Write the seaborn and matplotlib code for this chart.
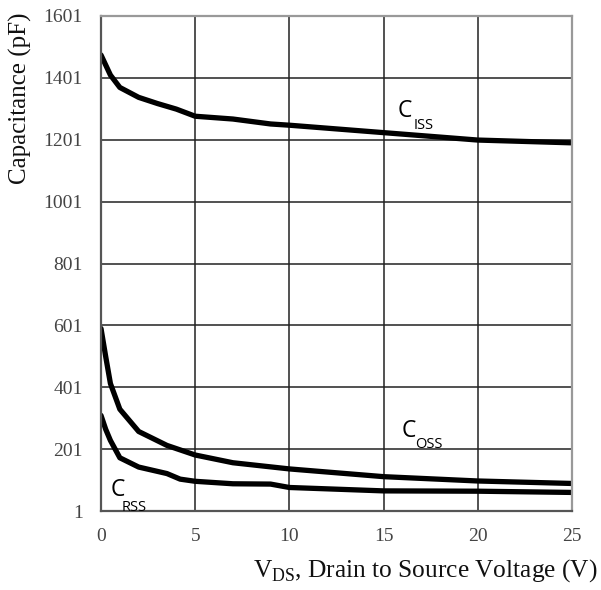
import matplotlib
matplotlib.use("Agg")
import matplotlib.pyplot as plt
import seaborn as sns
import pandas as pd

# Data
vds_ciss = [0, 0.5, 1, 2, 3, 4, 5, 7, 9, 10, 15, 20, 25]
ciss = [1475, 1410, 1370, 1338, 1318, 1300, 1277, 1268, 1252, 1248, 1224, 1200, 1191]

vds_coss = [0, 0.25, 0.5, 1, 2, 3.5, 5, 7, 10, 15, 20, 25]
coss = [591, 500, 413, 330, 258, 213, 182, 157, 137, 112, 98, 90]

vds_crss = [0, 0.25, 0.5, 1, 2, 3.5, 4.2, 5, 7, 9, 10, 15, 20, 25]
crss = [310, 265, 229, 173, 143, 122, 104, 97, 89, 88, 77, 66, 65, 61]

xticks = [0, 5, 10, 15, 20, 25]
yticks = [1, 201, 401, 601, 801, 1001, 1201, 1401, 1601]

df = pd.concat([
    pd.DataFrame({"V": vds_ciss, "C": ciss, "s": "Ciss"}),
    pd.DataFrame({"V": vds_coss, "C": coss, "s": "Coss"}),
    pd.DataFrame({"V": vds_crss, "C": crss, "s": "Crss"}),
])

sns.set_style("white")
plt.rcParams["font.family"] = ["Liberation Serif", "DejaVu Serif"]
plt.rcParams["mathtext.fontset"] = "custom"
plt.rcParams["mathtext.rm"] = "Liberation Serif"

fig = plt.figure(figsize=(6.01, 5.90), dpi=100)
ax = fig.add_axes([101/601, 1-511/590, (572-101)/601, (511-16)/590])

sns.lineplot(data=df, x="V", y="C", units="s", estimator=None, color="black",
             linewidth=3.8, ax=ax, legend=False, sort=False)

ax.set_xlim(0, 25)
ax.set_ylim(1, 1601)
ax.set_xticks(xticks)
ax.set_yticks(yticks)
ax.set_xticklabels([str(t) for t in xticks])
ax.set_yticklabels([str(t) for t in yticks])
ax.tick_params(axis="both", length=0, labelsize=14, labelcolor="#444444")
ax.tick_params(axis="y", pad=13)
ax.tick_params(axis="x", pad=12)
ax.grid(True, color="#222222", linewidth=1.1)
ax.set_axisbelow(True)
for side, sp in ax.spines.items():
    sp.set_color("#999999" if side in ("top", "right") else "#555555")
    sp.set_linewidth(1.6)

ax.set_xlabel(r"V$_{\mathrm{DS}}$, Drain to Source Voltage (V)", fontsize=18.3,
              color="#111111", ha="right", va="baseline")
ax.xaxis.set_label_coords(1.055, -0.133)
ax.set_ylabel("Capacitance (pF)", fontsize=18, color="#111111", va="center")
ax.yaxis.set_label_coords(-0.170, 0.833)

lab = dict(family=["Open Sans", "DejaVu Sans"], color="black")
def clabel(x, y, sub, dx, dy):
    ax.text(x, y, "C", fontsize=16.5, ha="left", va="baseline", **lab)
    ax.annotate(sub, xy=(x, y), xytext=(dx, dy), textcoords="offset points",
                fontsize=10.5, ha="left", va="baseline", **lab)

clabel(15.76, 1274, "ISS", 11.0, -8.3)
clabel(15.98, 239, "OSS", 9.5, -7.7)
clabel(0.51, 51, "RSS", 8.0, -10.8)

fig.savefig("out.png", dpi=100)
